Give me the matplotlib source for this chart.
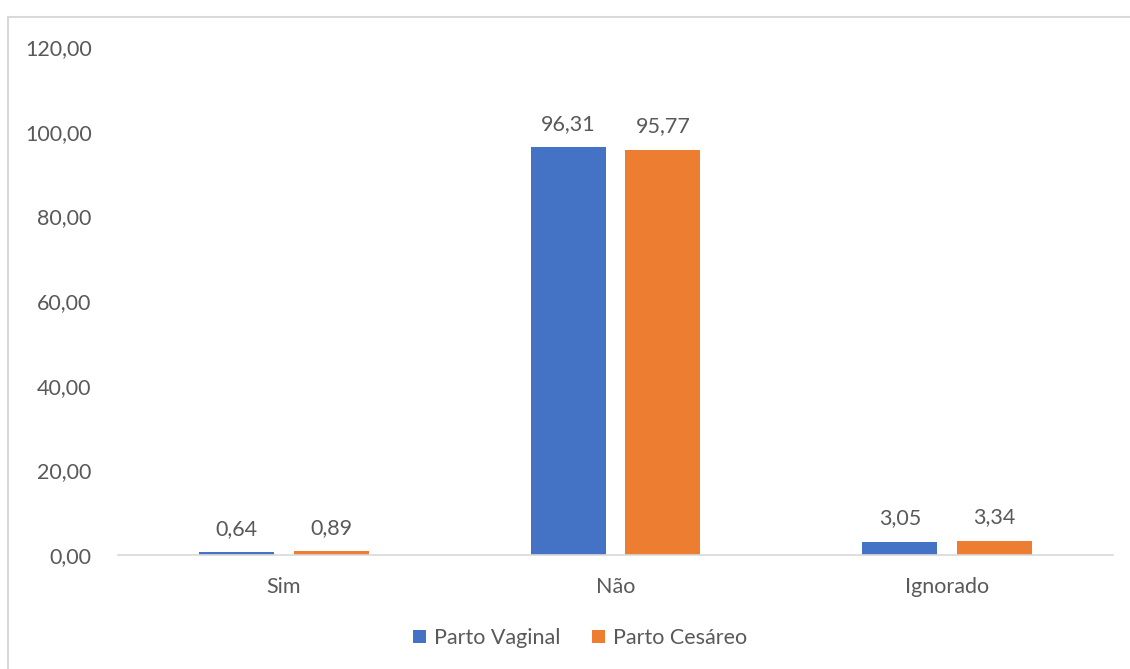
import matplotlib
matplotlib.use("Agg")
import matplotlib.pyplot as plt
import numpy as np
from matplotlib.patches import Rectangle

categories = ["Sim", "Não", "Ignorado"]
series_names = ["Parto Vaginal", "Parto Cesáreo"]
vaginal = [0.64, 96.31, 3.05]
cesareo = [0.89, 95.77, 3.34]
yticks = [0, 20, 40, 60, 80, 100, 120]

plt.rcParams['font.family'] = ['Lato', 'DejaVu Sans']
txt = '#595959'
colors = ['#4472C4', '#ED7D31']
fs = 15.5

fig = plt.figure(figsize=(11.30, 6.69), dpi=100)
fig.patches.append(Rectangle((8/1130, -0.05), 1.2, 1 - 17/669 + 0.05,
                             transform=fig.transFigure, fill=False,
                             edgecolor='#D9D9D9', linewidth=1.5))
ax = fig.add_axes([118/1130, 1 - 555/669, (1113 - 118)/1130, (555 - 47)/669])

x = np.arange(len(categories))
w = 0.226
off = 0.143
for i, (vals, name) in enumerate(zip([vaginal, cesareo], series_names)):
    pos = x + (-off if i == 0 else off)
    ax.bar(pos, vals, width=w, color=colors[i], label=name)
    for p, v in zip(pos, vals):
        ax.text(p, v + 3.2, f"{v:.2f}".replace('.', ','), ha='center', va='bottom',
                fontsize=fs, color=txt)

ax.set_xlim(-0.5, 2.5)
ax.set_ylim(0, 120)
ax.set_yticks(yticks)
ax.set_yticklabels([f"{t:.2f}".replace('.', ',') for t in yticks], fontsize=fs, color=txt)
ax.set_xticks(x)
ax.set_xticklabels(categories, fontsize=fs, color=txt)
ax.tick_params(axis='both', length=0)
ax.tick_params(axis='y', pad=19)
ax.tick_params(axis='x', pad=16)
for s in ['top', 'right', 'left']:
    ax.spines[s].set_visible(False)
ax.spines['bottom'].set_color('#D9D9D9')
ax.spines['bottom'].set_linewidth(1.2)

leg = fig.legend(loc='center', bbox_to_anchor=(580/1130, 1 - 638/669), ncol=2,
                 frameon=False, fontsize=fs, handlelength=0.6, handleheight=0.6,
                 handletextpad=0.35, columnspacing=1.5)
for t in leg.get_texts():
    t.set_color(txt)

fig.savefig("out.png", dpi=100)
